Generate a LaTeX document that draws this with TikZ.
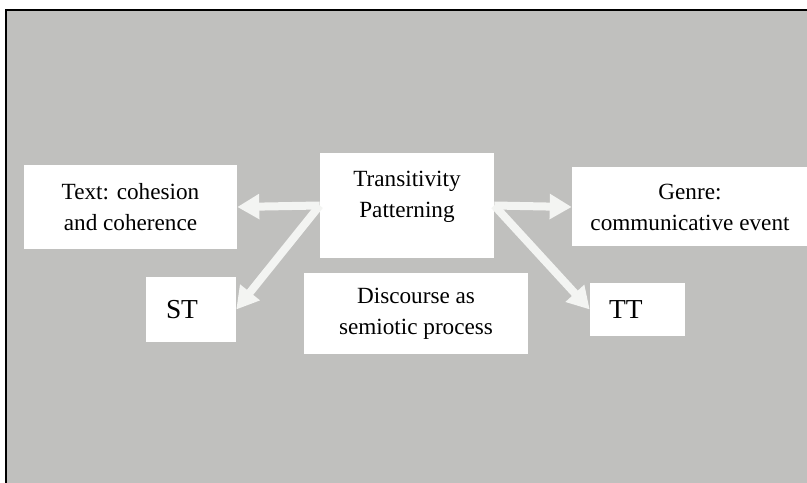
\documentclass[tikz,border=0pt]{standalone}
\usepackage{fontspec}
\setmainfont{Liberation Serif}
\usetikzlibrary{arrows.meta}

\definecolor{bggray}{RGB}{192,192,190}
\definecolor{linkwhite}{RGB}{243,244,242}

\begin{document}
\begin{tikzpicture}[
    box/.style={fill=white, inner sep=0pt, align=center,
      font=\fontsize{16.5}{22}\selectfont},
    tag/.style={fill=white, inner ysep=0pt, align=left,
      font=\fontsize{19.5}{23}\selectfont},
    link/.style={draw=linkwhite, line width=0.2cm,
      -{Triangle[width=0.6cm, length=0.55cm]}}]

  \useasboundingbox (0,0) rectangle (20.175,-12.075);
  \draw[line width=0.05cm, fill=bggray] (0.15,-0.25) rectangle (20.6,-12.6);

  \node[box, minimum width=5.325cm, minimum height=2.1cm] (txt) at (3.2625,-5.175)
    {Text: cohesion\\and coherence};
  \node[box, minimum width=4.35cm, minimum height=2.625cm] (tp) at (10.175,-5.1375) {};
  \node[box] (tplabel) at ([yshift=0.225cm]tp.center) {Transitivity\\Patterning};
  \node[box, minimum width=5.9cm, minimum height=1.975cm] (gen) at (17.25,-5.175)
    {Genre:\\communicative event};
  \node[tag, inner xsep=0.5cm, text width=1.25cm, minimum height=1.625cm] (st)
    at (4.775,-7.7375) {ST};
  \node[box, minimum width=5.6cm, minimum height=2.025cm] (disc) at (10.4,-7.8375)
    {Discourse as\\semiotic process};
  \node[tag, inner xsep=0.475cm, text width=1.425cm, minimum height=1.325cm] (tt)
    at (15.9375,-7.7375) {TT};

  \draw[link] (tp.west) -- (txt.east);
  \draw[link] (tp.west) -- (st.east);
  \draw[link] (tp.east) -- (gen.west);
  \draw[link] (tp.east) -- (tt.west);

\end{tikzpicture}
\end{document}
